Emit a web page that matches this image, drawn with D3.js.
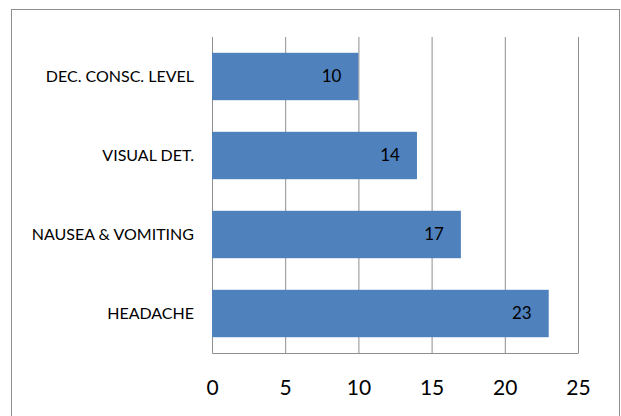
<!DOCTYPE html>
<html>
<head>
<meta charset="utf-8">
<script src="https://cdn.jsdelivr.net/npm/d3@7"></script>
<style>
  body { margin: 0; background: #fff; }
  svg text { font-family: Lato, "Open Sans", sans-serif; fill: #000; }
</style>
</head>
<body>
<svg id="chart" width="621" height="416"></svg>
<script>
// data
var categories = [ "DEC. CONSC. LEVEL", "VISUAL DET.", "NAUSEA & VOMITING", "HEADACHE" ];
var counts = [ 10, 14, 17, 23 ];
var tickValues = [ 0, 5, 10, 15, 20, 25 ];

var svg = d3.select( "#chart" );
var margin = { left: 212, right: 43, top: 37, bottom: 63 };
var width = 621 - margin.left - margin.right,
    height = 416 - margin.top - margin.bottom;

// outer frame
svg.append( "rect" )
    .attr( "x", 11.5 ).attr( "y", 9.5 )
    .attr( "width", 608 ).attr( "height", 440 )
    .attr( "fill", "none" )
    .attr( "stroke", "#8e8e8e" );

var g = svg.append( "g" )
    .attr( "transform", "translate(" + margin.left + "," + margin.top + ")" );

var x = d3.scaleLinear().domain( [ 0, 25 ] ).range( [ 0, width ] );
var y = d3.scaleBand().domain( categories ).range( [ 0, height ] )
    .paddingInner( 0.4 ).paddingOuter( 0.2 );

// x axis + vertical gridlines
var xAxis = g.append( "g" )
    .attr( "transform", "translate(0," + height + ")" )
    .call( d3.axisBottom( x ).tickValues( tickValues ).tickSizeInner( -height ).tickSizeOuter( 0 ) );
xAxis.select( ".domain" ).attr( "stroke", "#8e8e8e" );
xAxis.selectAll( ".tick line" ).attr( "stroke", "#8e8e8e" );
xAxis.selectAll( ".tick text" )
    .attr( "y", 35 ).attr( "dy", "0.35em" )
    .style( "font-size", "21px" );

// category axis
var yAxis = g.append( "g" )
    .call( d3.axisLeft( y ).tickSize( 0 ).tickPadding( 18 ) );
yAxis.select( ".domain" ).attr( "stroke", "#8e8e8e" );
yAxis.selectAll( ".tick text" ).style( "font-size", "16px" );

// bars
g.selectAll( ".bar" )
    .data( counts )
    .enter().append( "rect" )
    .attr( "class", "bar" )
    .attr( "x", 0 )
    .attr( "y", function( d, i ) { return y( categories[ i ] ); } )
    .attr( "width", function( d ) { return x( d ); } )
    .attr( "height", y.bandwidth() )
    .attr( "fill", "#4f81bd" );

// value labels, inside end
g.selectAll( ".val" )
    .data( counts )
    .enter().append( "text" )
    .attr( "class", "val" )
    .attr( "x", function( d ) { return x( d ) - 17; } )
    .attr( "y", function( d, i ) { return y( categories[ i ] ) + y.bandwidth() / 2; } )
    .attr( "dy", "0.35em" )
    .attr( "text-anchor", "end" )
    .style( "font-size", "17px" )
    .text( function( d ) { return d; } );
</script>
</body>
</html>
